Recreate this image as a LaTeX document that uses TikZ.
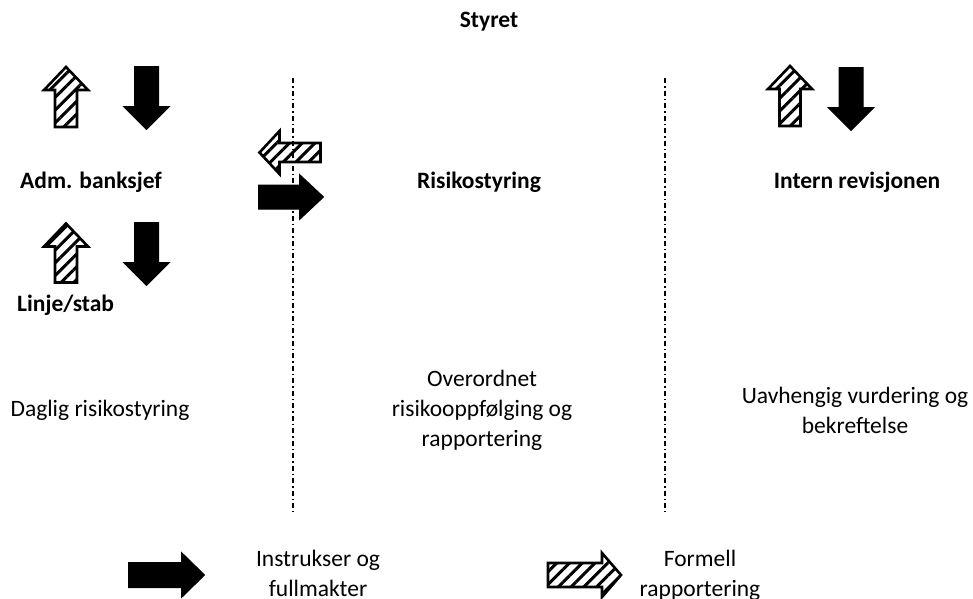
\documentclass[tikz,border=0pt]{standalone}
\usepackage{fontspec}
\setmainfont{Carlito}
\usetikzlibrary{patterns.meta}
\tikzset{
  % horizontal block arrow pointing right: length / shaft width / head width / head length
  pics/barrow/.style args={#1/#2/#3/#4}{code={%
    \path[pic actions] (-#1/2,-#2/2) -- (#1/2-#4,-#2/2) -- (#1/2-#4,-#3/2) -- (#1/2,0)
      -- (#1/2-#4,#3/2) -- (#1/2-#4,#2/2) -- (-#1/2,#2/2) -- cycle;
  }},
  % horizontal block arrow pointing left
  pics/larrow/.style args={#1/#2/#3/#4}{code={%
    \path[pic actions] (#1/2,-#2/2) -- (-#1/2+#4,-#2/2) -- (-#1/2+#4,-#3/2) -- (-#1/2,0)
      -- (-#1/2+#4,#3/2) -- (-#1/2+#4,#2/2) -- (#1/2,#2/2) -- cycle;
  }},
  % vertical block arrow pointing up (y grows downwards)
  pics/uarrow/.style args={#1/#2/#3/#4}{code={%
    \path[pic actions] (-#2/2,#1/2) -- (-#2/2,-#1/2+#4) -- (-#3/2,-#1/2+#4) -- (0,-#1/2)
      -- (#3/2,-#1/2+#4) -- (#2/2,-#1/2+#4) -- (#2/2,#1/2) -- cycle;
  }},
  % vertical block arrow pointing down
  pics/darrow/.style args={#1/#2/#3/#4}{code={%
    \path[pic actions] (-#2/2,-#1/2) -- (-#2/2,#1/2-#4) -- (-#3/2,#1/2-#4) -- (0,#1/2)
      -- (#3/2,#1/2-#4) -- (#2/2,#1/2-#4) -- (#2/2,-#1/2) -- cycle;
  }},
  solidarrow/.style={fill=black, draw=black, line width=1pt, line join=miter},
  hatcharrow/.style={draw=black, line width=2.6pt, line join=miter,
    pattern={Lines[angle=45,distance=9pt,line width=3pt]}},
  divider/.style={line width=1.3pt, dash pattern=on 5pt off 3pt on 1.5pt off 3pt},
  headtext/.style={font=\fontsize{23.5}{29}\selectfont\bfseries, inner sep=0pt},
  bodytext/.style={font=\fontsize{23.5}{30}\selectfont, align=center, inner sep=0pt},
}
\begin{document}
\begin{tikzpicture}[x=1pt,y=-1pt]
\useasboundingbox (0,0) rectangle (973,598);
% vertical dividers
\coordinate (d1t) at (293,78); \coordinate (d1b) at (293,512);
\coordinate (d2t) at (665,78); \coordinate (d2b) at (665,512);
\draw[divider] (d1t) -- (d1b);
\draw[divider] (d2t) -- (d2b);
% texts
\node[headtext] (styret) at (489,22) {Styret};
\node[headtext] (adm) at (91,182) {Adm. banksjef};
\node[headtext] (risk) at (479,182) {Risikostyring};
\node[headtext] (intern) at (857,182) {Intern revisjonen};
\node[headtext, anchor=west] (linje) at (17,305) {Linje/stab};
\node[bodytext] (daglig) at (100,410) {Daglig risikostyring};
\node[bodytext] (overordnet) at (482,410) {Overordnet\\risikooppfølging og\\rapportering};
\node[bodytext] (uavh) at (855,410) {Uavhengig vurdering og\\bekreftelse};
\node[bodytext] (instr) at (318,573) {Instrukser og\\fullmakter};
\node[bodytext] (formell) at (700,575) {Formell\\rapportering};
% arrows: left column
\pic[hatcharrow] at (66,97) {uarrow=60/22/44/23};
\pic[solidarrow] at (146.5,98) {darrow=63/24/46/23};
\pic[hatcharrow] at (66,253) {uarrow=59/22/44/23};
\pic[solidarrow] at (146.5,254) {darrow=63/24/46/23};
% arrows: right column
\pic[hatcharrow] at (790,96) {uarrow=60/21/44/23};
\pic[solidarrow] at (851,99) {darrow=63/24/46/23};
% arrows at first divider
\pic[hatcharrow] at (290,152.5) {larrow=61/19/43/20};
\pic[solidarrow] at (291,197) {barrow=65/24/45/24};
% legend arrows
\pic[solidarrow] at (166.5,575) {barrow=76/25/45/23};
\pic[hatcharrow] at (584.5,575) {barrow=73/24/44/19};
\end{tikzpicture}
\end{document}
